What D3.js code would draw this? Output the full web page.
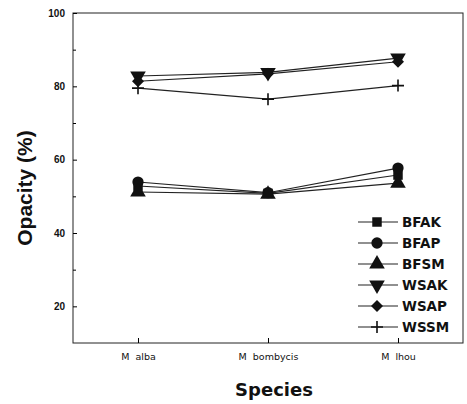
<!DOCTYPE html>
<html>
<head>
<meta charset="utf-8">
<script src="https://cdn.jsdelivr.net/npm/d3@7"></script>
<style>
body { margin: 0; background: #fff; }
svg { display: block; font-family: "Liberation Sans", Arial, sans-serif; }
</style>
</head>
<body>
<div id="chart"></div>
<script>
const species = ["M alba", "M bombycis", "M lhou"];
const seriesNames = ["BFAK", "BFAP", "BFSM", "WSAK", "WSAP", "WSSM"];
const symbols = ["square", "circle", "triangle", "triangleDown", "diamond", "plus"];
const BFAK = [52.8, 50.8, 55.8];
const BFAP = [53.9, 51.0, 57.7];
const BFSM = [51.2, 50.6, 53.6];
const WSAK = [82.8, 83.8, 87.7];
const WSAP = [81.4, 83.4, 86.7];
const WSSM = [79.5, 76.5, 80.2];
const majorTicks = [20, 40, 60, 80, 100];
const minorTicks = [30, 50, 70, 90];

const seriesValues = [BFAK, BFAP, BFSM, WSAK, WSAP, WSSM];

const W = 467, H = 404;
const margin = { top: 13, right: 4, bottom: 61, left: 73 };
const width = W - margin.left - margin.right,
    height = H - margin.top - margin.bottom;

const svg = d3.select("#chart").append("svg")
    .attr("width", W).attr("height", H);
const g = svg.append("g").attr("transform", `translate(${margin.left},${margin.top})`);

const x = d3.scalePoint().domain(species).range([0, width]).padding(0.5);
const y = d3.scaleLinear().domain([10, 100]).range([height, 0]);

// frame
g.append("rect").attr("width", width).attr("height", height)
    .attr("fill", "none").attr("stroke", "#222").attr("stroke-width", 1);

// y axis, ticks point inward
const yAxis = g.append("g")
    .call(d3.axisLeft(y).tickValues(majorTicks).tickSize(-4).tickPadding(8).tickFormat(d3.format("d")));
yAxis.select(".domain").remove();
yAxis.selectAll("text").attr("font-size", 10).attr("font-weight", "bold").attr("fill", "#111");
g.append("g")
    .call(d3.axisLeft(y).tickValues(minorTicks).tickSize(-3).tickFormat(""))
    .select(".domain").remove();

// x axis
const xAxis = g.append("g").attr("transform", `translate(0,${height})`)
    .call(d3.axisBottom(x).tickSize(-5).tickPadding(10).tickFormat(d => d.replace(" ", "\u00a0 ")));
xAxis.select(".domain").remove();
xAxis.selectAll("text").attr("font-size", 9.5).attr("font-family", "DejaVu Sans").attr("fill", "#111");

// lines and markers
const symbolType = {
    square: d3.symbolSquare, circle: d3.symbolCircle, triangle: d3.symbolTriangle,
    triangleDown: d3.symbolTriangle, diamond: d3.symbolSquare, plus: d3.symbolCross
};
const line = d3.line().x((d, i) => x(species[i])).y(d => y(d));

const drawMarker = (sel, sym, cx, cy) => {
    if (sym === "plus") {
        sel.append("path")
            .attr("d", `M${cx - 6},${cy}H${cx + 6}M${cx},${cy - 6}V${cy + 6}`)
            .attr("stroke", "#111").attr("stroke-width", 1.6).attr("fill", "none");
        return;
    }
    const size = sym === "diamond" ? 72 : sym === "circle" ? 100 : sym === "square" ? 90 : 105;
    const rot = sym === "triangleDown" ? " rotate(180)" : sym === "diamond" ? " rotate(45)" : "";
    sel.append("path")
        .attr("d", d3.symbol().type(symbolType[sym]).size(size)())
        .attr("transform", `translate(${cx},${cy})${rot}`)
        .attr("fill", "#111");
};

seriesValues.forEach((vals) => {
    g.append("path").datum(vals)
        .attr("d", line)
        .attr("fill", "none").attr("stroke", "#222").attr("stroke-width", 1.1);
});
seriesValues.forEach((vals, s) => {
    vals.forEach((v, i) => drawMarker(g, symbols[s], x(species[i]), y(v)));
});

// legend
const legend = g.append("g").attr("transform", `translate(${358 - margin.left},${222 - margin.top})`);
seriesNames.forEach((name, i) => {
    const row = legend.append("g").attr("transform", `translate(0,${i * 21})`);
    row.append("line").attr("x1", 0).attr("x2", 40).attr("y1", 0).attr("y2", 0)
        .attr("stroke", "#222").attr("stroke-width", 1.1);
    drawMarker(row, symbols[i], 19, 0);
    row.append("text").attr("x", 44).attr("y", 0).attr("dy", "0.36em")
        .attr("font-family", "DejaVu Sans").attr("font-size", 13.5).attr("font-weight", "bold")
        .attr("fill", "#111").text(name);
});

// axis titles
svg.append("text")
    .attr("transform", `translate(32,188) rotate(-90)`)
    .attr("text-anchor", "middle").attr("font-size", 21).attr("font-weight", "bold")
    .attr("fill", "#111").text("Opacity (%)");
svg.append("text")
    .attr("x", margin.left + width / 2 + 6).attr("y", 396)
    .attr("text-anchor", "middle").attr("font-family", "DejaVu Sans").attr("font-size", 18)
    .attr("font-weight", "bold").attr("fill", "#111").text("Species");
</script>
</body>
</html>
